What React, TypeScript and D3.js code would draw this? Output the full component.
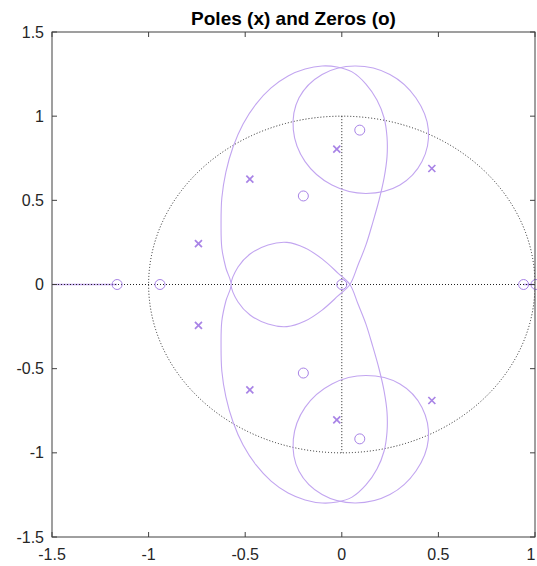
import React from "react";
import * as d3 from "d3";

// Axis ticks
const xTicks = [-1.5, -1, -0.5, 0, 0.5, 1];
const yTicks = [-1.5, -1, -0.5, 0, 0.5, 1, 1.5];

// Pole locations [re, im]
const poles: [number, number][] = [
  [-0.026, 0.804], [-0.026, -0.804],
  [0.466, 0.689], [0.466, -0.689],
  [-0.476, 0.626], [-0.476, -0.626],
  [-0.742, 0.243], [-0.742, -0.243],
];

// Zero locations [re, im]
const zeros: [number, number][] = [
  [0.093, 0.917], [0.093, -0.917],
  [-0.199, 0.526], [-0.199, -0.526],
  [0, 0],
  [-1.163, 0], [-0.941, 0],
  [0.941, 0], [1.005, 0],
];

// Self-crossing contour: outer lobe (upper half, lower half) then the inner loop
const mainContour: [number, number][] = [
  [0.042, 0], [0.084, 0.116], [0.125, 0.235], [0.161, 0.371], [0.193, 0.502],
  [0.219, 0.633], [0.234, 0.758], [0.234, 0.876], [0.219, 0.989], [0.182, 1.096],
  [0.125, 1.191], [0.053, 1.263], [-0.025, 1.292], [-0.102, 1.298], [-0.19, 1.28],
  [-0.278, 1.239], [-0.366, 1.168], [-0.444, 1.072], [-0.511, 0.954], [-0.563, 0.817],
  [-0.6, 0.668], [-0.621, 0.514], [-0.625, 0.359], [-0.621, 0.217], [-0.6, 0.098],
  [-0.573, 0],
  [-0.6, -0.098], [-0.621, -0.217], [-0.625, -0.359], [-0.621, -0.514], [-0.6, -0.668],
  [-0.563, -0.817], [-0.511, -0.954], [-0.444, -1.072], [-0.366, -1.168], [-0.278, -1.239],
  [-0.19, -1.28], [-0.102, -1.298], [-0.025, -1.292], [0.053, -1.263], [0.125, -1.191],
  [0.182, -1.096], [0.219, -0.989], [0.234, -0.876], [0.234, -0.758], [0.219, -0.633],
  [0.193, -0.502], [0.161, -0.371], [0.125, -0.235], [0.084, -0.116],
  [0.042, 0],
  [-0.02, 0.068], [-0.102, 0.152], [-0.19, 0.217], [-0.284, 0.25], [-0.382, 0.235],
  [-0.475, 0.181], [-0.537, 0.104],
  [-0.573, 0],
  [-0.537, -0.104], [-0.475, -0.181], [-0.382, -0.235], [-0.284, -0.25], [-0.19, -0.217],
  [-0.102, -0.152], [-0.02, -0.068],
];

// Loop around the upper zero pair
const upperLoop: [number, number][] = [
  [0.068, 1.298], [0.249, 1.248], [0.384, 1.108], [0.448, 0.92], [0.415, 0.73],
  [0.301, 0.591], [0.125, 0.541], [-0.051, 0.591], [-0.19, 0.73], [-0.251, 0.92],
  [-0.222, 1.108], [-0.102, 1.248],
];

// Loop around the lower zero pair
const lowerLoop: [number, number][] = [
  [0.068, -1.298], [0.249, -1.248], [0.384, -1.108], [0.448, -0.92], [0.415, -0.73],
  [0.301, -0.591], [0.125, -0.541], [-0.051, -0.591], [-0.19, -0.73], [-0.251, -0.92],
  [-0.222, -1.108], [-0.102, -1.248],
];

// Real-axis branches
const realBranches: [number, number][][] = [
  [[-1.5, 0], [-1.163, 0]],
  [[0.941, 0], [1.0, 0]],
];

const W = 537;
const H = 566;
const left = 52, right = 535, top = 32, bottom = 537;

const purple = "#c2a5f0";
const markColor = "#a883e6";
const axisColor = "#404040";
const textColor = "#262626";
const font = "'Liberation Sans', Arial, Helvetica, sans-serif";

export default function App() {
  const x = d3.scaleLinear().domain([-1.5, 1]).range([left, right]);
  const y = d3.scaleLinear().domain([-1.5, 1.5]).range([bottom, top]);

  const closed = d3
    .line<[number, number]>()
    .x((d) => x(d[0]))
    .y((d) => y(d[1]))
    .curve(d3.curveCatmullRomClosed.alpha(0.5));
  const straight = d3
    .line<[number, number]>()
    .x((d) => x(d[0]))
    .y((d) => y(d[1]));

  // unit circle, drawn as an ellipse in screen space
  const cx = x(0), cy = y(0);
  const rx = x(1) - x(0), ry = y(0) - y(1);

  return (
    <svg
      width={W}
      height={H}
      style={{ position: "absolute", left: 0, top: 0, background: "#fff" }}
      fontFamily={font}
    >
      <defs>
        <clipPath id="plotArea">
          <rect x={left} y={top} width={right - left} height={bottom - top} />
        </clipPath>
      </defs>
      <rect x={0} y={0} width={W} height={H} fill="#fff" />

      <g clipPath="url(#plotArea)">
        {realBranches.map((seg, i) => (
          <path key={"rb" + i} d={straight(seg) ?? ""} stroke={purple} strokeWidth={1.5} fill="none" />
        ))}

        <ellipse cx={cx} cy={cy} rx={rx} ry={ry} fill="none" stroke="#222" strokeWidth={1} strokeDasharray="1 2" />
        <line x1={x(-1.5)} x2={x(1)} y1={y(0)} y2={y(0)} stroke="#222" strokeWidth={1} strokeDasharray="1 2" />
        <line x1={x(0)} x2={x(0)} y1={y(1)} y2={y(-1)} stroke="#222" strokeWidth={1} strokeDasharray="1 2" />

        {[mainContour, upperLoop, lowerLoop].map((pts, i) => (
          <path key={"c" + i} d={closed(pts) ?? ""} fill="none" stroke={purple} strokeWidth={1.1} />
        ))}
      </g>

      {/* zeros */}
      {zeros.map((z, i) => (
        <circle key={"z" + i} cx={x(z[0])} cy={y(z[1])} r={5} fill="none" stroke={markColor} strokeWidth={1} />
      ))}

      {/* poles */}
      {poles.map((p, i) => {
        const px = x(p[0]), py = y(p[1]);
        const s = 3.5;
        return (
          <g key={"p" + i} stroke={markColor} strokeWidth={1.7}>
            <line x1={px - s} y1={py - s} x2={px + s} y2={py + s} />
            <line x1={px - s} y1={py + s} x2={px + s} y2={py - s} />
          </g>
        );
      })}

      {/* frame */}
      <rect x={left} y={top} width={right - left} height={bottom - top} fill="none" stroke={axisColor} strokeWidth={1} />

      {/* ticks */}
      {xTicks.map((t) => (
        <g key={"xt" + t} stroke={axisColor} strokeWidth={1}>
          <line x1={x(t)} x2={x(t)} y1={bottom} y2={bottom - 5} />
          <line x1={x(t)} x2={x(t)} y1={top} y2={top + 5} />
        </g>
      ))}
      {yTicks.map((t) => (
        <g key={"yt" + t} stroke={axisColor} strokeWidth={1}>
          <line x1={left} x2={left + 5} y1={y(t)} y2={y(t)} />
          <line x1={right} x2={right - 5} y1={y(t)} y2={y(t)} />
        </g>
      ))}

      {/* tick labels */}
      {xTicks.map((t) => (
        <text
          key={"xl" + t}
          x={Math.min(x(t), W - 6)}
          y={bottom + 23}
          textAnchor="middle"
          fontSize={16}
          fill={textColor}
        >
          {String(t)}
        </text>
      ))}
      {yTicks.map((t) => (
        <text key={"yl" + t} x={left - 8} y={y(t) + 5.5} textAnchor="end" fontSize={16} fill={textColor}>
          {String(t)}
        </text>
      ))}

      {/* title */}
      <text x={(left + right) / 2} y={25} textAnchor="middle" fontSize={19} fontWeight="bold" fill="#000">
        Poles (x) and Zeros (o)
      </text>
    </svg>
  );
}
